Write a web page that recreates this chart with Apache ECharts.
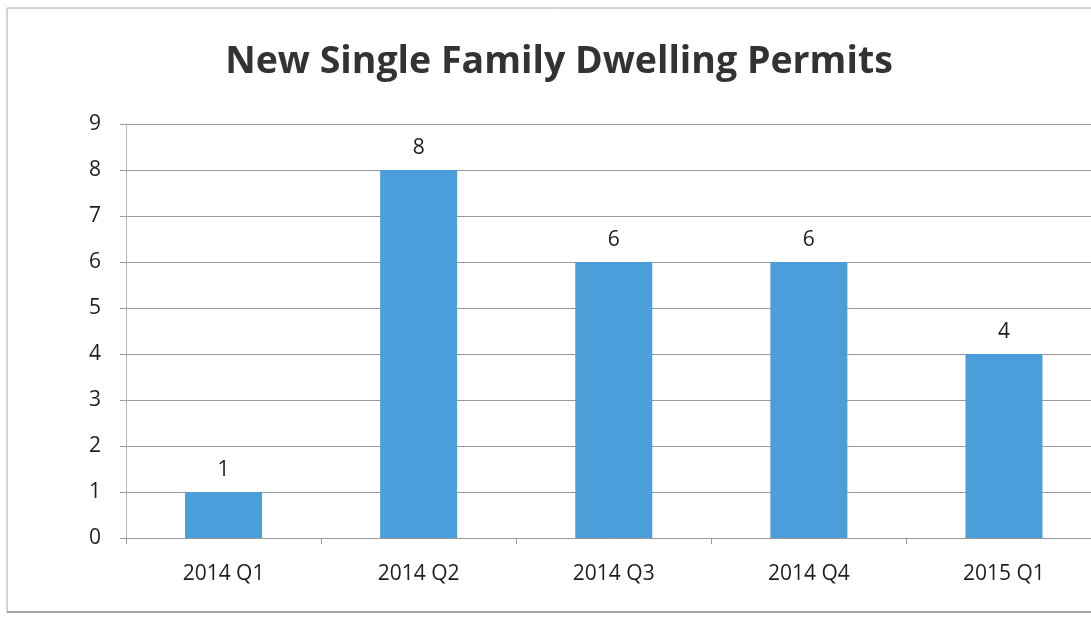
<!DOCTYPE html>
<html><head><meta charset="utf-8">
<script src="https://cdn.jsdelivr.net/npm/echarts@6/dist/echarts.min.js"></script>
<style>html,body{margin:0;padding:0;background:#fff;overflow:hidden;width:1091px;height:619px}#c{width:1110px;height:619px}</style>
</head><body><div id="c"></div>
<script>
const categories = ['2014 Q1', '2014 Q2', '2014 Q3', '2014 Q4', '2015 Q1'];
const permits = [1, 8, 6, 6, 4];
const yTicks = [0, 1, 2, 3, 4, 5, 6, 7, 8, 9];

const chart = echarts.init(document.getElementById('c'));
chart.setOption({
  animation: false,
  backgroundColor: '#fff',
  title: {
    text: 'New Single Family Dwelling Permits',
    left: 554, top: 38, textAlign: 'center',
    textStyle: { fontFamily: 'Open Sans', fontWeight: 'bold', fontSize: 37.5, color: '#333' }
  },
  graphic: [
    { type: 'line', shape: { x1: 7, y1: 8, x2: 1110, y2: 8 }, style: { stroke: '#aaa', lineWidth: 1 } },
    { type: 'line', shape: { x1: 7, y1: 8, x2: 7, y2: 612 }, style: { stroke: '#aaa', lineWidth: 1 } },
    { type: 'line', shape: { x1: 7, y1: 612, x2: 1110, y2: 612 }, style: { stroke: '#888', lineWidth: 1.5 } }
  ],
  grid: { left: 126, top: 124, right: 8.5, height: 414, containLabel: false },
  xAxis: {
    type: 'category', data: categories,
    axisLine: { show: false },
    axisTick: { show: true, length: 6, lineStyle: { color: '#999' } },
    axisLabel: { fontFamily: 'Open Sans', fontSize: 21, color: '#1e1e1e', margin: 26 }
  },
  yAxis: {
    type: 'value', min: 0, max: 9, interval: 1,
    axisLine: { show: true, lineStyle: { color: '#a9b8c8' } },
    axisTick: { show: true, length: 6, lineStyle: { color: '#999' } },
    axisLabel: { fontFamily: 'Open Sans', fontSize: 21, color: '#1e1e1e', margin: 25,
      formatter: v => String(yTicks[v] !== undefined ? yTicks[v] : v) },
    splitLine: { lineStyle: { color: '#999', width: 1 } }
  },
  series: [{
    type: 'bar', data: permits, barWidth: 77,
    itemStyle: { color: '#4c9edb' },
    label: { show: true, position: 'top', distance: 11, fontFamily: 'Open Sans', fontSize: 21, color: '#1e1e1e' }
  }]
});
</script></body></html>
